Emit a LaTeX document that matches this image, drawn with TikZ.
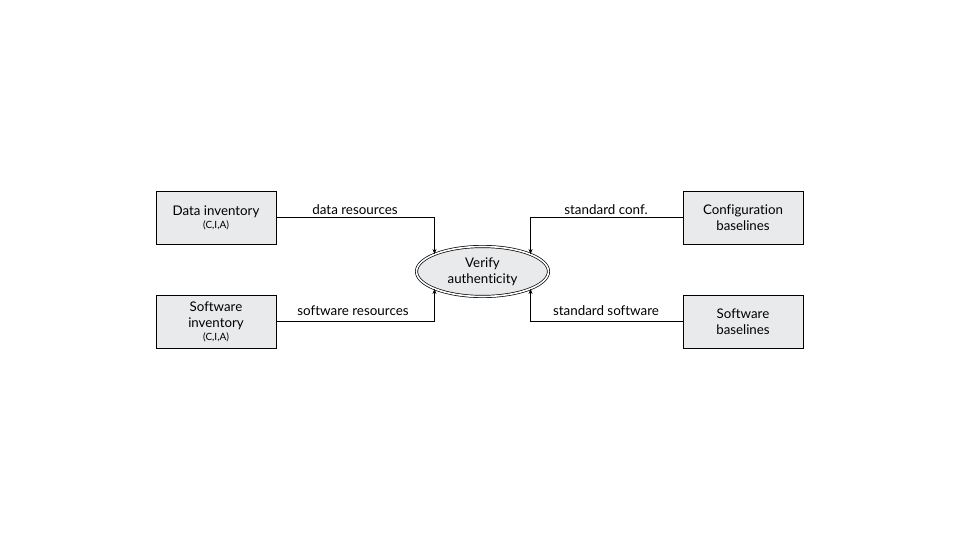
\documentclass[tikz,border=0pt]{standalone}
\usepackage{fontspec}
\setmainfont{Lato}[Ligatures={NoCommon}]
\usetikzlibrary{shapes.geometric,arrows.meta}
\definecolor{boxfill}{RGB}{232,234,235}
\begin{document}
\begin{tikzpicture}[x=1pt,y=-1pt,
  box/.style={draw, fill=boxfill, line width=0.8pt, minimum width=120pt, minimum height=53pt, align=center, inner sep=2pt, text depth=0pt, font=\fontsize{13.3}{16}\selectfont},
  proc/.style={ellipse, draw, double, double distance=1.6pt, line width=0.7pt, fill=boxfill, minimum width=132pt, minimum height=50pt, align=center, inner sep=0pt, font=\fontsize{13.3}{16}\selectfont},
  flow/.style={draw, line width=0.7pt, -{Stealth[length=5pt,width=4pt]}},
  lbl/.style={font=\fontsize{13.4}{16}\selectfont, inner sep=1pt}]
\useasboundingbox (0,0) rectangle (960,540);
\node[box] (di) at (216,217.5) {Data inventory\\[-3pt]{\fontsize{10}{12}\selectfont (C,I,A)}};
\node[box] (si) at (216,321.5) {Software\\inventory\\[-3pt]{\fontsize{10}{12}\selectfont (C,I,A)}};
\node[box] (cb) at (743,217.5) {Configuration\\baselines};
\node[box] (sb) at (743,321.5) {Software\\baselines};
\node[proc] (va) at (482.5,271.5) {Verify\\authenticity};
\draw[flow] (di.east) -| (va.160);
\draw[flow] (si.east) -| (va.200);
\draw[flow] (cb.west) -| (va.20);
\draw[flow] (sb.west) -| (va.340);
\node[lbl] (l1) at (355,210) {data resources};
\node[lbl] (l2) at (353,311) {software resources};
\node[lbl] (l3) at (606,210) {standard conf.};
\node[lbl] (l4) at (606,311) {standard software};
\end{tikzpicture}
\end{document}
